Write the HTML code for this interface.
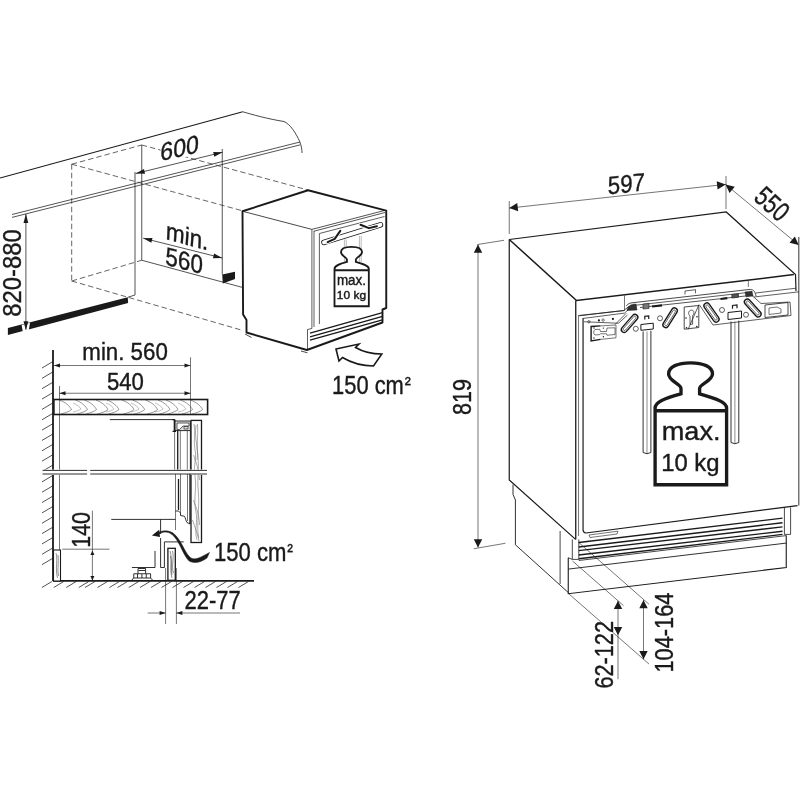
<!DOCTYPE html>
<html><head><meta charset="utf-8"><style>
html,body{margin:0;padding:0;background:#fff;}
svg{display:block;will-change:transform;}
text{font-family:"Liberation Sans",sans-serif;fill:#1a1a1a;stroke:#1a1a1a;stroke-width:0.4px;}
</style></head><body>
<svg width="800" height="800" viewBox="0 0 800 800">
<rect width="800" height="800" fill="#fff"/>
<g stroke="#1a1a1a" fill="none" stroke-linecap="butt">
<line x1="0" y1="178" x2="242.75" y2="111.75" stroke-width="1.1" />
<path d="M242.75,111.75 C252,114.5 268,119 284,121.5 C290,124 296,133 299.75,141.75 C301.5,146 302,150 302,153" stroke-width="0.8" fill="none" />
<path d="M12,214.5 L300,142 M12,217.4 L300,144.9" stroke-width="0.75" fill="none" />
<line x1="71.7" y1="164.2" x2="141.75" y2="145" stroke-width="0.75" stroke-dasharray="5.5 3" stroke="#333"/>
<line x1="141.75" y1="145" x2="308" y2="190" stroke-width="0.75" stroke-dasharray="5.5 3" stroke="#333"/>
<line x1="71.7" y1="164.2" x2="242.5" y2="210.8" stroke-width="0.75" stroke-dasharray="5.5 3" stroke="#333"/>
<line x1="71.7" y1="164.2" x2="71.7" y2="281" stroke-width="0.75" stroke-dasharray="5.5 3" stroke="#333"/>
<line x1="71.7" y1="281" x2="141.75" y2="260.25" stroke-width="0.75" stroke-dasharray="5.5 3" stroke="#333"/>
<line x1="71.7" y1="281" x2="243" y2="330.5" stroke-width="0.75" stroke-dasharray="5.5 3" stroke="#333"/>
<path d="M135,172 L135,295 L128,297.2" stroke-width="0.75" fill="none" />
<line x1="141.75" y1="145" x2="141.75" y2="260.25" stroke-width="0.75" />
<line x1="141.75" y1="260.25" x2="242.8" y2="287.5" stroke-width="0.75" />
<line x1="222.25" y1="149" x2="222.25" y2="274.5" stroke-width="0.75" />
<line x1="135.75" y1="173.5" x2="222.5" y2="152.25" stroke-width="0.75" />
<polygon points="135.75,173.50 143.92,169.03 145.06,173.69" fill="#1a1a1a" stroke="none" stroke-width="0"/>
<polygon points="222.50,152.25 214.33,156.72 213.19,152.06" fill="#1a1a1a" stroke="none" stroke-width="0"/>
<polygon points="160.00,147.00 197.00,137.00 200.00,153.00 163.00,163.00" fill="#fff" stroke="none" stroke-width="0"/>
<text transform="translate(179.80,147.85) skewY(-13.2) skewX(-2) scale(0.916,1)" x="-21.18" y="8.70" font-size="25.21">600</text>
<line x1="143.2" y1="238.2" x2="222.25" y2="258" stroke-width="0.75" />
<polygon points="143.20,238.20 152.51,238.06 151.35,242.71" fill="#1a1a1a" stroke="none" stroke-width="0"/>
<polygon points="222.25,258.00 212.94,258.14 214.10,253.49" fill="#1a1a1a" stroke="none" stroke-width="0"/>
<text transform="translate(187.00,235.70) skewY(15) skewX(-3) scale(0.893,1)" x="-23.47" y="9.15" font-size="25.24">min.</text>
<text transform="translate(184.20,260.60) skewY(14.5) skewX(-3) scale(0.864,1)" x="-21.64" y="8.94" font-size="25.92">560</text>
<polygon points="222.25,274.50 235.00,271.80 235.00,279.00 222.80,283.50" fill="#1a1a1a" stroke="none" stroke-width="0"/>
<polygon points="7.90,328.10 127.75,297.15 128.10,303.10 7.90,335.10" fill="#1a1a1a" stroke="none" stroke-width="0"/>
<polygon points="21.60,325.00 30.00,322.80 28.20,334.00 23.50,335.30" fill="#fff" stroke="none" stroke-width="0"/>
<line x1="25.9" y1="214" x2="25.9" y2="329.5" stroke-width="0.75" />
<polygon points="25.90,214.00 28.30,223.00 23.50,223.00" fill="#1a1a1a" stroke="none" stroke-width="0"/>
<polygon points="25.90,330.20 23.50,321.20 28.30,321.20" fill="#1a1a1a" stroke="none" stroke-width="0"/>
<text transform="translate(12.10,272.80) rotate(-90) scale(0.903,1)" x="-48.59" y="9.11" font-size="26.41">820-880</text>
<path d="M242.5,211.25 L308.1,190.25 L386.25,210.6 L386.25,308 L382.5,309.5 L382.5,322.5 L306.9,350 L246.5,332.5 L246.5,320 L243.1,314.4 Z" stroke-width="1.9" fill="none" stroke-linejoin="round"/>
<line x1="242.5" y1="211.25" x2="311.9" y2="229.4" stroke-width="0.8" />
<path d="M311.9,229.4 L384,210.6 M313.75,231.25 L385,212.5" stroke-width="0.75" fill="none" />
<path d="M311.9,229.4 L311.9,328.5 L307.5,329.5 L307.5,349.5" stroke-width="0.7" fill="none" />
<line x1="314" y1="231" x2="314" y2="327" stroke-width="0.7" />
<path d="M319.4,233.5 L319.4,324 M319.4,233.5 L384.5,216.5" stroke-width="0.7" fill="none" />
<path d="M310,333.1 L382.5,312.6 M310,336.9 L382.5,316.4 M310,340.2 L382.5,319.8" stroke-width="1.3" fill="none" />
<path d="M324,242.4 L380.4,224.9" stroke-width="5.6" fill="none" stroke-linecap="round"/>
<path d="M324,242.4 L380.4,224.9" stroke-width="4.0" fill="none" stroke-linecap="round" stroke="#fff"/>
<path d="M327.65,242.2 L334.7,238.9 L340.3,230.9 M360.5,224.8 L368.9,228.1 L376.9,226.25" stroke-width="3.6" fill="none" stroke-linecap="round" stroke-linejoin="round" stroke="#fff"/>
<path d="M327.65,242.2 L334.7,238.9 L340.3,230.9 M360.5,224.8 L368.9,228.1 L376.9,226.25" stroke-width="2.0" fill="none" stroke-linecap="round" stroke-linejoin="round"/>
<path d="M344.4,239.5 L344.4,262 M346.2,239.5 L346.2,262 M359.4,236 L359.4,262 M361.2,236 L361.2,262" stroke-width="0.5" fill="none" stroke="#777"/>
<path d="M245,334 L251.5,337.5 M301,351 L307.5,352.8" stroke-width="0.8" fill="none" />
<path d="M655.1,484.75 L655.1,408 C655.1,402 664,398.5 681,393.8 L681,388.5 C681,384 668.6,381 668.6,374 C668.6,366.5 678,362.9 690.6,362.9 C703,362.9 712.5,366.5 712.5,374 C712.5,381 699.6,384 699.6,388.5 L699.6,393.8 C716,398.5 726.6,402 726.6,408 L726.6,484.75 Z M655.1,410.7 L726.6,410.7" stroke-width="3.35" fill="#fff"/>
<path d="M655.1,484.75 L655.1,408 C655.1,402 664,398.5 681,393.8 L681,388.5 C681,384 668.6,381 668.6,374 C668.6,366.5 678,362.9 690.6,362.9 C703,362.9 712.5,366.5 712.5,374 C712.5,381 699.6,384 699.6,388.5 L699.6,393.8 C716,398.5 726.6,402 726.6,408 L726.6,484.75 Z M655.1,410.7 L726.6,410.7" transform="translate(20.052,70.189) scale(0.48,0.487)" stroke-width="3.8" fill="#fff"/>
<text transform="translate(690.75,432.75) scale(1.028,1)" x="-28.21" y="6.99" font-size="26.36">max.</text>
<text transform="translate(690.50,464.75) scale(0.992,1)" x="-29.54" y="6.20" font-size="24.06">10 kg</text>
<text transform="translate(351.25,281.10) scale(0.972,1)" x="-14.79" y="3.66" font-size="13.82">max.</text>
<text transform="translate(351.50,296.40) scale(1.174,1)" x="-12.47" y="2.62" font-size="10.16">10 kg</text>
<path d="M336,349 L359,344 L355.5,347.5 C365,353 373,354 381.75,354 L373.5,366 C360,366 350,362 342.5,357.5 L339,361 Z" stroke-width="1.6" fill="#fff" stroke-linejoin="miter"/>
<text transform="translate(368.10,385.30) scale(0.859,1)" x="-41.94" y="8.80" font-size="25.49">150 cm</text>
<text transform="translate(407.80,381.00) scale(0.961,1)" x="-3.19" y="9.24" font-size="19.05">²</text>
<line x1="53" y1="350" x2="53" y2="581" stroke-width="1.8" />
<line x1="53" y1="361.5" x2="42" y2="368.0" stroke-width="0.75" />
<line x1="53" y1="371.85" x2="42" y2="378.35" stroke-width="0.75" />
<line x1="53" y1="382.2" x2="42" y2="388.7" stroke-width="0.75" />
<line x1="53" y1="392.55" x2="42" y2="399.05" stroke-width="0.75" />
<line x1="53" y1="402.9" x2="42" y2="409.4" stroke-width="0.75" />
<line x1="53" y1="413.25" x2="42" y2="419.75" stroke-width="0.75" />
<line x1="53" y1="423.6" x2="42" y2="430.1" stroke-width="0.75" />
<line x1="53" y1="433.95" x2="42" y2="440.45" stroke-width="0.75" />
<line x1="53" y1="444.3" x2="42" y2="450.8" stroke-width="0.75" />
<line x1="53" y1="454.65" x2="42" y2="461.15" stroke-width="0.75" />
<line x1="53" y1="465.0" x2="42" y2="471.5" stroke-width="0.75" />
<line x1="53" y1="475.35" x2="42" y2="481.85" stroke-width="0.75" />
<line x1="53" y1="485.7" x2="42" y2="492.2" stroke-width="0.75" />
<line x1="53" y1="496.04999999999995" x2="42" y2="502.54999999999995" stroke-width="0.75" />
<line x1="53" y1="506.4" x2="42" y2="512.9" stroke-width="0.75" />
<line x1="53" y1="516.75" x2="42" y2="523.25" stroke-width="0.75" />
<line x1="53" y1="527.1" x2="42" y2="533.6" stroke-width="0.75" />
<line x1="53" y1="537.45" x2="42" y2="543.95" stroke-width="0.75" />
<line x1="53" y1="547.8" x2="42" y2="554.3" stroke-width="0.75" />
<line x1="53" y1="558.15" x2="42" y2="564.65" stroke-width="0.75" />
<line x1="53" y1="580.9" x2="254" y2="580.9" stroke-width="1.8" />
<line x1="51.9" y1="581.5" x2="41.9" y2="587.5" stroke-width="0.75" />
<line x1="63.75" y1="581.5" x2="53.75" y2="587.5" stroke-width="0.75" />
<line x1="76.25" y1="581.5" x2="66.25" y2="587.5" stroke-width="0.75" />
<line x1="88.75" y1="581.5" x2="78.75" y2="587.5" stroke-width="0.75" />
<line x1="95" y1="581.5" x2="85" y2="587.5" stroke-width="0.75" />
<line x1="107.5" y1="581.5" x2="97.5" y2="587.5" stroke-width="0.75" />
<line x1="119.4" y1="581.5" x2="109.4" y2="587.5" stroke-width="0.75" />
<line x1="127.5" y1="581.5" x2="117.5" y2="587.5" stroke-width="0.75" />
<line x1="138.75" y1="581.5" x2="128.75" y2="587.5" stroke-width="0.75" />
<line x1="150" y1="581.5" x2="140" y2="587.5" stroke-width="0.75" />
<line x1="161" y1="581.5" x2="151" y2="587.5" stroke-width="0.75" />
<line x1="171.5" y1="581.5" x2="161.5" y2="587.5" stroke-width="0.75" />
<line x1="182.5" y1="581.5" x2="172.5" y2="587.5" stroke-width="0.75" />
<line x1="193.5" y1="581.5" x2="183.5" y2="587.5" stroke-width="0.75" />
<line x1="204.5" y1="581.5" x2="194.5" y2="587.5" stroke-width="0.75" />
<line x1="215.5" y1="581.5" x2="205.5" y2="587.5" stroke-width="0.75" />
<line x1="226.5" y1="581.5" x2="216.5" y2="587.5" stroke-width="0.75" />
<line x1="237.5" y1="581.5" x2="227.5" y2="587.5" stroke-width="0.75" />
<line x1="248.5" y1="581.5" x2="238.5" y2="587.5" stroke-width="0.75" />
<line x1="190.5" y1="357.25" x2="190.5" y2="400" stroke-width="0.6" />
<line x1="59.5" y1="386" x2="59.5" y2="581" stroke-width="0.6" />
<line x1="54" y1="365.5" x2="190.5" y2="365.5" stroke-width="0.6" />
<polygon points="54.00,365.50 60.00,363.50 60.00,367.50" fill="#1a1a1a" stroke="none" stroke-width="0"/>
<polygon points="190.50,365.50 184.50,367.50 184.50,363.50" fill="#1a1a1a" stroke="none" stroke-width="0"/>
<line x1="59.5" y1="393.25" x2="190.5" y2="393.25" stroke-width="0.6" />
<polygon points="59.50,393.25 65.50,391.25 65.50,395.25" fill="#1a1a1a" stroke="none" stroke-width="0"/>
<polygon points="190.50,393.25 184.50,395.25 184.50,391.25" fill="#1a1a1a" stroke="none" stroke-width="0"/>
<text transform="translate(125.40,351.25) scale(0.910,1)" x="-47.33" y="8.76" font-size="24.49">min. 560</text>
<text transform="translate(125.40,381.60) scale(0.912,1)" x="-20.29" y="8.38" font-size="24.30">540</text>
<rect x="53.9" y="399.5" width="153.7" height="15" stroke-width="1.6" fill="#fff"/>
<path d="M59.5,400.2 C65.5,402 69.5,406 71.5,409.5 C69.5,411.5 65.5,412.8 60.5,414.2" stroke-width="0.5" fill="none" stroke="#333"/>
<path d="M75.5,400.2 C81.5,402 85.5,406 87.5,409.5 C85.5,411.5 81.5,412.8 76.5,414.2" stroke-width="0.5" fill="none" stroke="#333"/>
<path d="M84.5,400.2 C90.5,402 94.5,406 96.5,409.5 C94.5,411.5 90.5,412.8 85.5,414.2" stroke-width="0.5" fill="none" stroke="#333"/>
<path d="M96,400.2 C102,402 106,406 108,409.5 C106,411.5 102,412.8 97,414.2" stroke-width="0.5" fill="none" stroke="#333"/>
<path d="M107,400.2 C113,402 117,406 119,409.5 C117,411.5 113,412.8 108,414.2" stroke-width="0.5" fill="none" stroke="#333"/>
<path d="M122,400.2 C128,402 132,406 134,409.5 C132,411.5 128,412.8 123,414.2" stroke-width="0.5" fill="none" stroke="#333"/>
<path d="M132.7,400.2 C138.7,402 142.7,406 144.7,409.5 C142.7,411.5 138.7,412.8 133.7,414.2" stroke-width="0.5" fill="none" stroke="#333"/>
<path d="M145.6,400.2 C151.6,402 155.6,406 157.6,409.5 C155.6,411.5 151.6,412.8 146.6,414.2" stroke-width="0.5" fill="none" stroke="#333"/>
<path d="M158,400.2 C164,402 168,406 170,409.5 C168,411.5 164,412.8 159,414.2" stroke-width="0.5" fill="none" stroke="#333"/>
<path d="M166,400.2 C172,402 176,406 178,409.5 C176,411.5 172,412.8 167,414.2" stroke-width="0.5" fill="none" stroke="#333"/>
<path d="M180.5,400.2 C186.5,402 190.5,406 192.5,409.5 C190.5,411.5 186.5,412.8 181.5,414.2" stroke-width="0.5" fill="none" stroke="#333"/>
<path d="M190.6,400.2 C196.6,402 200.6,406 202.6,409.5 C200.6,411.5 196.6,412.8 191.6,414.2" stroke-width="0.5" fill="none" stroke="#333"/>
<path d="M73,403 C77,404.5 80,407 81,409 C79,410.5 76,411.5 73,412" stroke-width="0.4" fill="none" stroke="#666"/>
<path d="M106,403 C110,404.5 113,407 114,409 C112,410.5 109,411.5 106,412" stroke-width="0.4" fill="none" stroke="#666"/>
<path d="M131,403 C135,404.5 138,407 139,409 C137,410.5 134,411.5 131,412" stroke-width="0.4" fill="none" stroke="#666"/>
<path d="M155,403 C159,404.5 162,407 163,409 C161,410.5 158,411.5 155,412" stroke-width="0.4" fill="none" stroke="#666"/>
<path d="M178,403 C182,404.5 185,407 186,409 C184,410.5 181,411.5 178,412" stroke-width="0.4" fill="none" stroke="#666"/>
<line x1="59.5" y1="400" x2="59.5" y2="414.5" stroke-width="0.5" />
<line x1="190.5" y1="400" x2="190.5" y2="414.5" stroke-width="0.5" />
<path d="M109.8,419.6 L174.6,419.6 L174.6,431.4" stroke-width="0.9" fill="none" />
<path d="M174.6,421 L190.4,421 L190.4,430.6 L174.6,430.6" stroke-width="0.9" fill="#ddd" />
<path d="M172.5,431.4 L176,431.4 M172.5,419.6 L174.6,419.6" stroke-width="1.2" fill="none" />
<line x1="174.6" y1="419.6" x2="174.6" y2="431.4" stroke-width="1.8" />
<path d="M177,423 L189,423 L189,426 L183,426 L179.5,429.5 L177,429.5 Z" stroke-width="0.7" fill="#fff" />
<path d="M184,426.5 L188,426.5 L188,429 L184,429 Z" stroke-width="0.6" fill="none" />
<line x1="174.6" y1="430.6" x2="174.6" y2="470.4" stroke-width="0.6" />
<line x1="177.7" y1="430.6" x2="177.7" y2="470.4" stroke-width="1.3" />
<line x1="180.3" y1="430.6" x2="180.3" y2="470.4" stroke-width="0.6" />
<line x1="187.3" y1="430.6" x2="187.3" y2="470.4" stroke-width="0.6" />
<line x1="190.4" y1="430.6" x2="190.4" y2="470.4" stroke-width="0.9" />
<rect x="191" y="420.4" width="10.5" height="122.1" stroke-width="1.3" fill="#fff"/>
<path d="M194,424 C196,432 193,440 195,450 C197,458 193,466 195,476 C197,490 193,500 196,512 C198,522 194,530 197,540" stroke-width="0.45" fill="none" stroke="#444"/>
<path d="M197.5,424 C198.5,436 196,446 198,456 C199.5,470 196.5,480 198.5,494 C199.5,510 196.5,520 198.5,538" stroke-width="0.45" fill="none" stroke="#444"/>
<path d="M193.5,500 C196,508 199,512 199.5,525 M193.5,455 C196,462 199,470 199.5,480 M196,425 C194,440 199,448 197,460 M192.5,520 C195,528 198,534 199,541" stroke-width="0.5" fill="none" stroke="#555"/>
<rect x="42" y="469.6" width="167" height="5.4" fill="#fff" stroke="none"/>
<path d="M42.5,470.4 L87.1,470.4 M90.2,470.4 L207,470.4 M42.5,474 L87.1,474 M90.2,474 L207,474" stroke-width="0.9" fill="none" />
<line x1="175.5" y1="474" x2="175.5" y2="530" stroke-width="0.6" />
<line x1="178.5" y1="479" x2="178.5" y2="510" stroke-width="1.3" />
<line x1="180.5" y1="474" x2="180.5" y2="513" stroke-width="0.6" />
<line x1="187.5" y1="474" x2="187.5" y2="521" stroke-width="0.6" />
<line x1="190" y1="474" x2="190" y2="524" stroke-width="1.3" />
<path d="M175.5,511 L178.5,511 L180.5,513 L180.5,515.5 L184.5,516.3 C185.5,518 185.5,520 187,522.5 L190,524" stroke-width="0.9" fill="none" />
<line x1="111.25" y1="519.4" x2="175.5" y2="519.4" stroke-width="0.9" />
<path d="M160.6,519.4 L160.6,534 M160.6,538 L160.6,567.5 L164.4,567.5 L164.4,541.9 L183.75,541.9" stroke-width="0.9" fill="none" />
<path d="M155,551 L155,567.5 L131.9,567.5" stroke-width="0.9" fill="none" />
<line x1="62.25" y1="549.2" x2="109.5" y2="549.2" stroke-width="0.6" />
<line x1="92.4" y1="510.7" x2="92.4" y2="580.4" stroke-width="0.6" />
<polygon points="92.40,550.60 94.40,555.10 90.40,555.10" fill="#1a1a1a" stroke="none" stroke-width="0"/>
<polygon points="92.40,580.40 90.40,575.90 94.40,575.90" fill="#1a1a1a" stroke="none" stroke-width="0"/>
<text transform="translate(81.40,529.50) rotate(-90) scale(0.822,1)" x="-22.15" y="8.97" font-size="25.99">140</text>
<rect x="53.5" y="550" width="7" height="31" stroke-width="1.1" fill="#fff"/>
<path d="M56,553 C58,560 55,568 57.5,578 M58,555 C59,562 57,570 58.5,576" stroke-width="0.55" fill="none" stroke="#333"/>
<path d="M131.9,580 L133.5,578 L150.6,578 L152.5,580 M133.75,578 L133.75,573.75 L150.6,573.75 L150.6,578 M138,573.75 L138,568.5 L145.6,568.5 L145.6,573.75" stroke-width="0.9" fill="none" />
<path d="M137.5,574 L137.5,578 M141.9,574 L141.9,578 M146.25,574 L146.25,578 M138.5,570.5 L145,570.5" stroke-width="0.9" fill="none" />
<rect x="167.9" y="548.3" width="7.4" height="32" stroke-width="1.3" fill="#fff"/>
<path d="M170,551 C173,560 169,568 172,578 M172.5,551 C174.5,558 171,566 173.5,573 M170.5,556 C172,562 171,570 172,575" stroke-width="0.55" fill="none" stroke="#333"/>
<path d="M209.5,552.5 L207,558 C202,561.5 196,564 190,561.5 C184,558 180,541 172,534.5 C167,531 163,531.5 157.5,534.5 L157.8,532.8 C163,530 168,530 173,533 C181,538.5 185,554 191,558 C196,560.5 201,557 209.5,552.5 Z" stroke-width="0.5" fill="#1a1a1a" />
<polygon points="151.90,535.60 159.20,529.80 160.00,537.00" fill="#1a1a1a" stroke="none" stroke-width="0"/>
<text transform="translate(250.30,552.50) scale(0.882,1)" x="-41.24" y="8.65" font-size="25.07">150 cm</text>
<text transform="translate(290.00,547.80) scale(0.890,1)" x="-3.19" y="9.24" font-size="19.05">²</text>
<line x1="165.6" y1="568" x2="165.6" y2="624" stroke-width="0.6" />
<line x1="176.4" y1="568" x2="176.4" y2="624" stroke-width="0.6" />
<line x1="147.6" y1="613" x2="165.6" y2="613" stroke-width="0.6" />
<polygon points="165.60,613.00 159.60,615.00 159.60,611.00" fill="#1a1a1a" stroke="none" stroke-width="0"/>
<line x1="176.4" y1="613" x2="240" y2="613" stroke-width="0.6" />
<polygon points="176.40,613.00 182.40,611.00 182.40,615.00" fill="#1a1a1a" stroke="none" stroke-width="0"/>
<text transform="translate(212.60,600.00) scale(0.855,1)" x="-32.85" y="9.00" font-size="25.71">22-77</text>
<line x1="509.25" y1="201" x2="509.25" y2="234" stroke-width="0.6" />
<line x1="726" y1="176" x2="726" y2="209" stroke-width="0.6" />
<line x1="509.25" y1="208.1" x2="725.6" y2="184.4" stroke-width="0.6" />
<polygon points="509.25,208.10 517.25,203.10 518.15,211.25" fill="#1a1a1a" stroke="none" stroke-width="0"/>
<polygon points="725.60,184.40 717.60,189.40 716.70,181.25" fill="#1a1a1a" stroke="none" stroke-width="0"/>
<text transform="translate(626.25,183.75) skewY(-6) scale(0.877,1)" x="-20.98" y="8.75" font-size="25.35">597</text>
<line x1="725.6" y1="184.4" x2="798.75" y2="245" stroke-width="0.6" />
<polygon points="725.60,184.40 734.76,186.67 729.53,192.98" fill="#1a1a1a" stroke="none" stroke-width="0"/>
<polygon points="798.75,245.00 789.59,242.73 794.82,236.42" fill="#1a1a1a" stroke="none" stroke-width="0"/>
<text transform="translate(772.10,203.90) rotate(42) scale(0.775,1)" x="-23.05" y="9.52" font-size="27.61">550</text>
<line x1="477.5" y1="244.5" x2="504" y2="240.3" stroke-width="0.6" />
<line x1="473.75" y1="548.75" x2="505.4" y2="543.25" stroke-width="0.6" />
<line x1="478" y1="244.5" x2="478" y2="547.4" stroke-width="0.6" />
<polygon points="478.00,244.50 482.20,252.70 473.80,252.70" fill="#1a1a1a" stroke="none" stroke-width="0"/>
<polygon points="478.00,547.40 473.80,539.20 482.20,539.20" fill="#1a1a1a" stroke="none" stroke-width="0"/>
<text transform="translate(462.00,397.00) rotate(-90) scale(0.851,1)" x="-21.11" y="8.75" font-size="25.35">819</text>
<path d="M509.25,239.5 L726.25,212 L795.5,274.6 L796,291" stroke-width="1.2" fill="none" />
<line x1="798.8" y1="237" x2="798.8" y2="505.6" stroke-width="1.1" stroke="#444"/>
<path d="M509.25,239.5 L576.5,300.5 L793.8,274.6" stroke-width="1.5" fill="none" />
<path d="M509.25,239.5 L509.25,480 L575.6,539.4" stroke-width="1.2" fill="none" />
<line x1="575.75" y1="300.5" x2="575.75" y2="539.4" stroke-width="1.3" />
<line x1="578.55" y1="315" x2="578.55" y2="536" stroke-width="0.6" />
<line x1="583.06" y1="318" x2="583.06" y2="530" stroke-width="1.2" />
<line x1="624.5" y1="295.5" x2="624.5" y2="310.5" stroke-width="0.6" />
<line x1="748.3" y1="280.75" x2="748.3" y2="287" stroke-width="0.6" />
<path d="M578.5,315.5 L624.5,310.5" stroke-width="0.7" fill="none" />
<path d="M755.75,293 L796,288.2 M754,297 L799,291.8" stroke-width="0.7" fill="none" />
<path d="M685,294.5 L685,291 L695.5,289.7 L695.5,293.3" stroke-width="0.7" fill="none" />
<path d="M626.25,306 C628,303.5 630,303 633,302.7 L749,289.5 C753,289 755,291 756,296" stroke-width="0.8" fill="none" />
<path d="M633,305.5 L752,292" stroke-width="0.7" fill="none" />
<path d="M640,307.5 L750,295.5" stroke-width="1.0" fill="none" stroke="#555"/>
<path d="M652,306.5 L662,305.3 M720.5,299 L727.3,298.2" stroke-width="2.2" fill="none" />
<path d="M745,292 L752,291.2 L753,296 L746,296.8 Z" stroke-width="0.5" fill="#333" />
<path d="M627,310.5 C628,306 630,304.5 636,304 L637,310 Z" stroke-width="0.5" fill="#333" />
<path d="M643,304 L649,303.4 L649,308.5 L643,309 Z" stroke-width="0.6" fill="#777" />
<path d="M731.8,294.5 L738.5,293.8 L738.5,297.3 L731.8,298 Z" stroke-width="0.6" fill="#555" />
<path d="M579.5,315.75 L623.75,310.5 L629,306.25" stroke-width="0.8" fill="none" />
<path d="M583.25,318.4 L624.5,313.1 L630,308" stroke-width="0.7" fill="none" />
<path d="M584,321.75 L618.5,323.25 L627.5,315" stroke-width="0.7" fill="none" />
<path d="M600.5,325.9 L591.1,326.5 L591.1,340.9 L600.5,339.4" stroke-width="1.4" fill="none" />
<path d="M600.5,325.9 L616,325 L616,337.8 L600.5,339.4" stroke-width="0.6" fill="none" />
<path d="M595,329.5 C593.3,331 593.3,333.5 595,335 L599.75,334.6 L600.5,333.75 L606.5,333.75 L607,335.25 L615,334.5 L615,327.8 L607,328 L606.5,331.5 L600.5,331.5 L599.75,329.25 Z" stroke-width="0.6" fill="none" />
<circle cx="603.4" cy="328.1" r="0.7" fill="#1a1a1a" stroke="none"/>
<circle cx="603.4" cy="336.75" r="0.7" fill="#1a1a1a" stroke="none"/>
<circle cx="594" cy="328" r="0.7" fill="#1a1a1a" stroke="none"/>
<circle cx="594" cy="338" r="0.7" fill="#1a1a1a" stroke="none"/>
<path d="M615,324.5 L626.25,313.25" stroke-width="0.7" fill="none" />
<path d="M699.5,305 L713,325 L791,315.5 L790,302 L761,303.5 L752,295.5" stroke-width="0.7" fill="none" />
<path d="M684.2,307 L698.8,305.5 L698.8,327.5 L684.2,329.2 Z" stroke-width="0.8" fill="none" />
<path d="M690,324.5 L690,316 C688,314.5 688,310.5 691.3,310.2 C694.6,310 694.6,314 692.6,315.7 L692.6,324.2 Z" stroke-width="0.7" fill="none" />
<circle cx="686" cy="318" r="0.8" fill="#1a1a1a" stroke="none"/>
<circle cx="697" cy="316.8" r="0.8" fill="#1a1a1a" stroke="none"/>
<circle cx="686.5" cy="327.8" r="0.8" fill="#1a1a1a" stroke="none"/>
<circle cx="696.8" cy="326.5" r="0.8" fill="#1a1a1a" stroke="none"/>
<path d="M765,305 L788,302.5 L788,315 L765,317.5 Z" stroke-width="0.8" fill="none" />
<path d="M769,308 L777,307 L781,309 L781,313 L777,313.5 L769,314.5 Z" stroke-width="0.6" fill="none" />
<path d="M699,304.5 L688,329.5" stroke-width="0.7" fill="none" />
<g transform="translate(629.6,323.4) rotate(-49)"><rect x="-11.0" y="-2.9" width="22" height="5.8" rx="2.9" stroke-width="1.4" fill="#fff"/><rect x="-9.0" y="-1.2999999999999998" width="18" height="2.5999999999999996" rx="1.2999999999999998" stroke-width="0.6" fill="none"/></g>
<g transform="translate(670.1,317.75) rotate(-58)"><rect x="-11.0" y="-2.9" width="22" height="5.8" rx="2.9" stroke-width="1.4" fill="#fff"/><rect x="-9.0" y="-1.2999999999999998" width="18" height="2.5999999999999996" rx="1.2999999999999998" stroke-width="0.6" fill="none"/></g>
<g transform="translate(711.5,312.5) rotate(55)"><rect x="-11.0" y="-2.9" width="22" height="5.8" rx="2.9" stroke-width="1.4" fill="#fff"/><rect x="-9.0" y="-1.2999999999999998" width="18" height="2.5999999999999996" rx="1.2999999999999998" stroke-width="0.6" fill="none"/></g>
<g transform="translate(752.75,308) rotate(48)"><rect x="-11.0" y="-2.9" width="22" height="5.8" rx="2.9" stroke-width="1.4" fill="#fff"/><rect x="-9.0" y="-1.2999999999999998" width="18" height="2.5999999999999996" rx="1.2999999999999998" stroke-width="0.6" fill="none"/></g>
<circle cx="635.8" cy="328.8" r="2.5" stroke-width="0.7"/>
<circle cx="660" cy="318.3" r="2.5" stroke-width="0.7"/>
<circle cx="722" cy="310" r="2.5" stroke-width="0.7"/>
<circle cx="746" cy="314.75" r="2.5" stroke-width="0.7"/>
<circle cx="598.9" cy="320.4" r="1.1" fill="#1a1a1a" stroke="none"/>
<circle cx="612.9" cy="318.9" r="1.1" fill="#1a1a1a" stroke="none"/>
<circle cx="588.9" cy="321.75" r="1.2" stroke-width="0.6"/>
<circle cx="603.1" cy="320.1" r="1.2" stroke-width="0.6"/>
<path d="M640.9,324.5 L653.25,323.2 L653.25,329 L640.9,330.3 Z" stroke-width="1.0" fill="none" />
<path d="M728,312.5 L741.5,311 L741.5,318 L728,319.5 Z" stroke-width="1.0" fill="none" />
<path d="M644.8,319.4 L644.8,316.2 L648.75,315.8 L648.75,318.9" stroke-width="1.2" fill="none" />
<path d="M732.5,308.75 L732.5,305.5 L737,305 L737,308.3" stroke-width="1.2" fill="none" />
<path d="M643.1,331.5 L643.1,452.5 Q647.0,455.0 650.9,452.5 L650.9,330.7" stroke-width="0.9" fill="none" />
<line x1="647.0" y1="331.5" x2="647.0" y2="453.5" stroke-width="0.5" />
<path d="M731,321.5 L731,442.5 Q734.9,445.0 738.8,442.5 L738.8,320.7" stroke-width="0.9" fill="none" />
<line x1="734.9" y1="321.5" x2="734.9" y2="443.5" stroke-width="0.5" />
<path d="M583.06,530 Q583.5,533 586,533 L797.5,505.6" stroke-width="1.2" fill="none" />
<path d="M589,535 L618,531.2 L617,534 L590,537.5 Z" stroke-width="0.6" fill="none" />
<g stroke-width="1.35">
<line x1="578.75" y1="542.5" x2="782.5" y2="518.1" stroke-width="1.35" />
<line x1="578.75" y1="547" x2="782.5" y2="522.75" stroke-width="1.35" />
<line x1="578.75" y1="550.6" x2="782.5" y2="526.9" stroke-width="1.35" />
<line x1="578.75" y1="555" x2="782.5" y2="531.25" stroke-width="1.35" />
<line x1="578.75" y1="558.75" x2="782.5" y2="534.4" stroke-width="1.35" />
</g>
<path d="M572.3,539.4 L572.3,559.4 L578.8,559.4 L578.8,539.4" stroke-width="0.8" fill="none" />
<path d="M784.4,507.5 L784.4,534.4 L790.6,534.4 L790.6,507.5" stroke-width="0.8" fill="none" />
<line x1="578.8" y1="560.5" x2="786.25" y2="535.6" stroke-width="0.8" />
<path d="M568.25,557.75 L572.3,559.4" stroke-width="0.8" fill="none" />
<path d="M568.25,557.75 L568.25,593.75 L786.25,567.5 L786.25,535.6" stroke-width="1.1" fill="none" />
<line x1="568.25" y1="569.1" x2="786.25" y2="543.1" stroke-width="0.9" />
<path d="M513,484.6 L513,494.4 L515.4,500 L515.4,544.75 L568.25,592.5" stroke-width="0.9" fill="none" />
<path d="M560.1,531 L560.1,584" stroke-width="0.8" fill="none" />
<line x1="568.75" y1="593.75" x2="649" y2="664.1" stroke-width="0.6" />
<line x1="572.5" y1="561" x2="623.5" y2="605.6" stroke-width="0.6" />
<line x1="578.75" y1="542.5" x2="649" y2="604.25" stroke-width="0.6" />
<line x1="618" y1="600.8" x2="618" y2="679.2" stroke-width="0.6" />
<polygon points="618.00,600.80 622.20,609.05 613.80,609.05" fill="#1a1a1a" stroke="none" stroke-width="0"/>
<polygon points="618.00,635.20 613.80,626.95 622.20,626.95" fill="#1a1a1a" stroke="none" stroke-width="0"/>
<line x1="643.5" y1="600.1" x2="643.5" y2="659.3" stroke-width="0.6" />
<polygon points="643.50,600.10 647.70,608.35 639.30,608.35" fill="#1a1a1a" stroke="none" stroke-width="0"/>
<polygon points="643.50,659.30 639.30,651.05 647.70,651.05" fill="#1a1a1a" stroke="none" stroke-width="0"/>
<text transform="translate(603.90,654.80) rotate(-90) scale(0.828,1)" x="-40.80" y="9.04" font-size="26.20">62-122</text>
<text transform="translate(664.10,632.10) rotate(-90) scale(0.867,1)" x="-46.70" y="8.67" font-size="25.14">104-164</text>
</g></svg></body></html>
